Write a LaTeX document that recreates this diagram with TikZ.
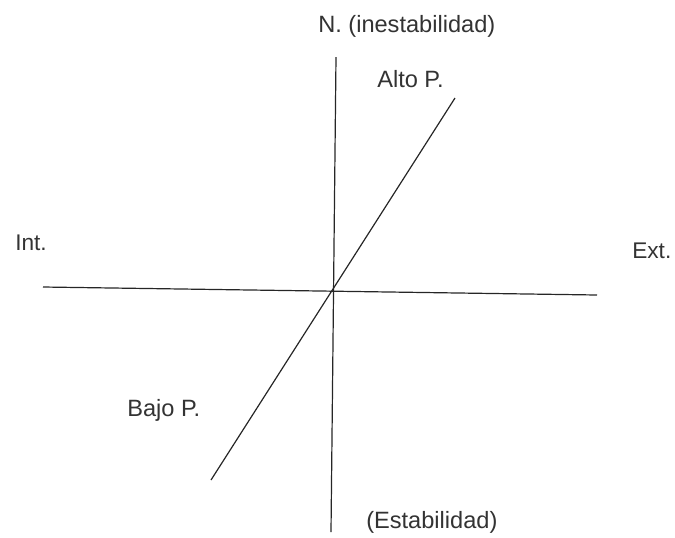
\documentclass[tikz,border=0pt]{standalone}
\usepackage{fontspec}
\setmainfont{Liberation Sans}
\begin{document}
\begin{tikzpicture}[x=0.75pt, y=-0.75pt,
    axis/.style={line width=0.9pt, black!85},
    lbl/.style={anchor=base west, inner sep=0pt, text=black!80, font=\fontsize{17.7}{21}\selectfont},
    sidelbl/.style={lbl, font=\fontsize{17}{20}\selectfont}]
    \useasboundingbox (0,0) rectangle (675,537);

    % end points of the three lines
    \coordinate (top) at (336,57);
    \coordinate (bottom) at (331,532);
    \coordinate (left) at (43,287);
    \coordinate (right) at (597,295);
    \coordinate (high) at (455,98);
    \coordinate (low) at (211,480);

    \draw[axis] (left) -- (right);
    \draw[axis] (top) -- (bottom);
    \draw[axis] (low) -- (high);

    % labels
    \node[lbl] (inest) at (318,32) {N. (inestabilidad)};
    \node[lbl] (alto) at (377,87) {Alto P.};
    \node[sidelbl] (int) at (15,250) {Int.};
    \node[sidelbl] (ext) at (632,258) {Ext.};
    \node[lbl] (bajo) at (127,416) {Bajo P.};
    \node[lbl] (estab) at (366,528) {(Estabilidad)};
\end{tikzpicture}
\end{document}
